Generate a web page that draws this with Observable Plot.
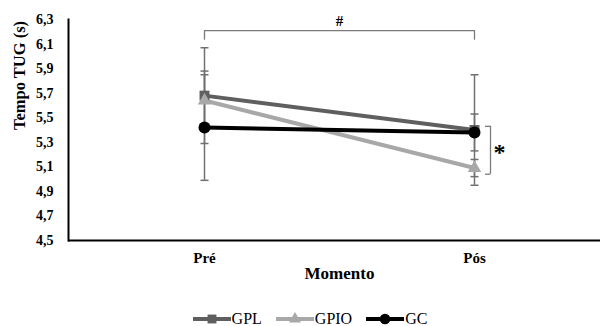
<!DOCTYPE html>
<html>
<head>
<meta charset="utf-8">
<script src="https://cdn.jsdelivr.net/npm/d3@7"></script>
<script src="https://cdn.jsdelivr.net/npm/@observablehq/plot@0.6"></script>
<style>
  html, body { margin: 0; background: #fff; font-family: "Liberation Serif", "Times New Roman", serif; overflow: hidden; }
  #chart svg { display: block; }
  #legend { display: flex; justify-content: center; align-items: center; height: 14px; line-height: 14px; margin-top: 14px; padding-left: 20px; font-size: 16px; color: #000; }
  #legend .item { display: flex; align-items: center; margin: 0 7px; }
  #legend svg { display: block; margin-right: 1px; }
</style>
</head>
<body>
<div id="chart"></div>
<div id="legend"></div>
<script>
// Timed Up and Go (TUG) test time, mean ± SD, per group and moment
const moments = ["Pré", "Pós"];
const groups = ["GPL", "GPIO", "GC"];
const gplMean = [5.68, 5.40];
const gpioMean = [5.64, 5.09];
const gcMean = [5.42, 5.38];
const gplSd = [0.39, 0.45];
const gpioSd = [0.24, 0.07];
const gcSd = [0.43, 0.15];
const yTicks = [4.5, 4.7, 4.9, 5.1, 5.3, 5.5, 5.7, 5.9, 6.1, 6.3];

// significance marks: "#" between moments, "*" within Pós
const hashBracket = [6.14, 6.21];
const starBracket = [5.04, 5.43];

const groupColors = ["#5f5f5f", "#a8a8a8", "#000000"];
const groupSymbols = ["square", "triangle", "circle"];
const groupRadius = [5.6, 5, 6];

const means = [gplMean, gpioMean, gcMean];
const sds = [gplSd, gpioSd, gcSd];
const rows = [];
groups.forEach((g, gi) => moments.forEach((m, mi) => rows.push({
  group: g, gi, moment: m, mi, mean: means[gi][mi], sd: sds[gi][mi]
})));

const errColor = "#707070";
const bracketColor = "#7a7a7a";

// horizontal cap for error bars (half-width = r)
const capSymbol = { draw(ctx, size) { const w = Math.sqrt(size / Math.PI); ctx.moveTo(-w, 0); ctx.lineTo(w, 0); } };
// left-pointing tick for the bracket ends
const leftTick = { draw(ctx, size) { const w = Math.sqrt(size / Math.PI); ctx.moveTo(-w, 0); ctx.lineTo(0, 0); } };

const fontFamily = '"Liberation Serif", "Times New Roman", serif';
const H = 298;

const marks = [
  // axis lines
  Plot.ruleY([4.5], { stroke: "#000", strokeWidth: 2 }),
  Plot.frame({ anchor: "left", stroke: "#000", strokeWidth: 2 }),
  Plot.axisY({
    ticks: yTicks, tickSize: 0, tickPadding: 15, label: null,
    tickFormat: d => d.toFixed(1).replace(".", ","),
    fontSize: 14, fontWeight: "bold", fontFamily
  }),
  Plot.axisX({
    ticks: [0, 1], tickSize: 0, tickPadding: 12, label: null,
    tickFormat: i => moments[i],
    fontSize: 15, fontWeight: "bold", fontFamily
  }),
  Plot.text(["Tempo TUG (s)"], { frameAnchor: "left", dx: -49, rotate: -90, fontSize: 16.5, fontWeight: "bold", fontFamily }),
  Plot.text(["Momento"], { x: [0.5], frameAnchor: "bottom", dy: 38, fontSize: 17, fontWeight: "bold", fontFamily }),

  // error bars
  Plot.ruleX(rows, { x: "mi", y1: d => d.mean - d.sd, y2: d => d.mean + d.sd, stroke: errColor, strokeWidth: 1.5 }),
  Plot.dot(rows, { x: "mi", y: d => d.mean - d.sd, symbol: capSymbol, r: 4, stroke: errColor, strokeWidth: 1.5, fill: "none" }),
  Plot.dot(rows, { x: "mi", y: d => d.mean + d.sd, symbol: capSymbol, r: 4, stroke: errColor, strokeWidth: 1.5, fill: "none" }),

  // group lines and markers
  ...groups.map((g, gi) => Plot.line(rows.filter(d => d.gi === gi), {
    x: "mi", y: "mean", stroke: groupColors[gi], strokeWidth: 4
  })),
  ...groups.map((g, gi) => Plot.dot(rows.filter(d => d.gi === gi), {
    x: "mi", y: "mean", symbol: groupSymbols[gi], r: groupRadius[gi], fill: groupColors[gi], stroke: "none"
  })),

  // "#" bracket between Pré and Pós
  Plot.line([
    { x: 0, y: hashBracket[0] }, { x: 0, y: hashBracket[1] },
    { x: 1, y: hashBracket[1] }, { x: 1, y: hashBracket[0] }
  ], { x: "x", y: "y", stroke: bracketColor, strokeWidth: 1.3 }),
  Plot.text(["#"], { x: [0.5], y: [hashBracket[1]], dy: -9, fontSize: 15, fontWeight: "bold", fontFamily }),

  // "*" bracket at Pós
  Plot.ruleX([1], { y1: starBracket[0], y2: starBracket[1], dx: 16, stroke: bracketColor, strokeWidth: 1.3 }),
  Plot.dot(starBracket, { x: () => 1, y: d => d, dx: 16, symbol: leftTick, r: 5.5, stroke: bracketColor, strokeWidth: 1.3, fill: "none" }),
  Plot.text(["*"], { x: [1], y: [(starBracket[0] + starBracket[1]) / 2], dx: 25, dy: 2, fontSize: 24, fontWeight: "bold", fontFamily })
];

const chart = Plot.plot({
  width: 600,
  height: H,
  marginLeft: 68,
  marginRight: 0,
  marginTop: 19,
  marginBottom: H - 240,
  style: { fontFamily, background: "#fff", color: "#000" },
  x: { type: "linear", domain: [0, 1], range: [204, 474], axis: null },
  y: { domain: [4.5, 6.3], axis: null },
  marks
});
document.getElementById("chart").append(chart);

// legend below the plot
const legend = d3.select("#legend");
groups.forEach((g, gi) => {
  const item = legend.append("div").attr("class", "item");
  const svg = item.append("svg").attr("width", 38).attr("height", 14);
  svg.append("line").attr("x1", 0).attr("x2", 38).attr("y1", 7).attr("y2", 7)
    .attr("stroke", groupColors[gi]).attr("stroke-width", 4);
  svg.append("path")
    .attr("transform", "translate(19,7)")
    .attr("d", d3.symbol(
      gi === 0 ? d3.symbolSquare : gi === 1 ? d3.symbolTriangle : d3.symbolCircle,
      Math.PI * groupRadius[gi] * groupRadius[gi] * 0.8
    )())
    .attr("fill", groupColors[gi]);
  item.append("span").text(g);
});
</script>
</body>
</html>
